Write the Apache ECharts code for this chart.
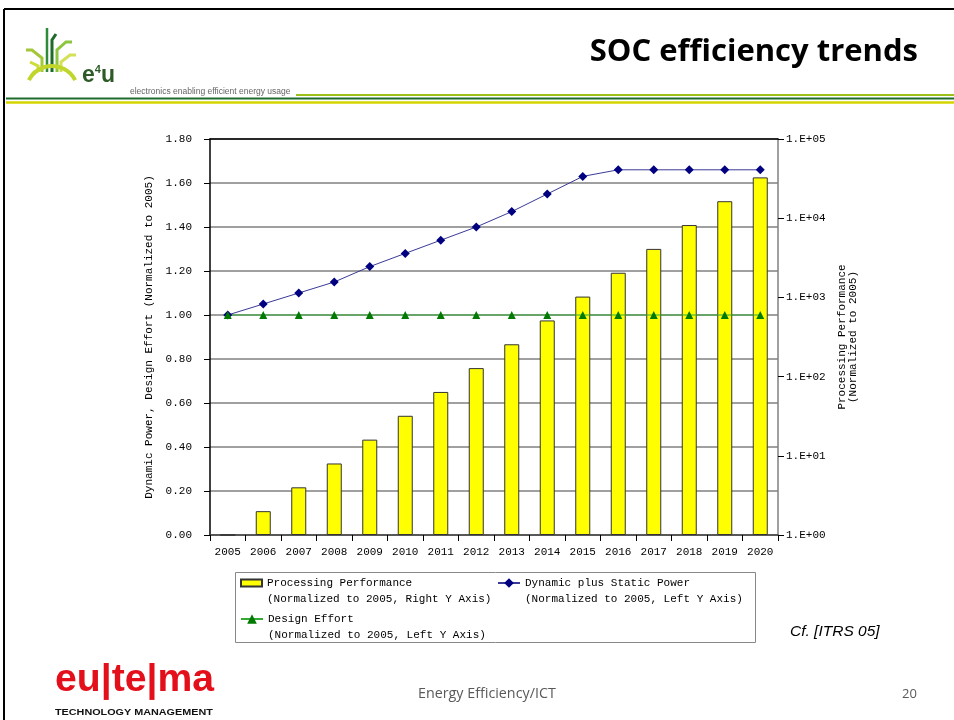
<!DOCTYPE html>
<html>
<head>
<meta charset="utf-8">
<script src="https://cdn.jsdelivr.net/npm/echarts@6/dist/echarts.min.js"></script>
<style>
html, body { margin: 0; padding: 0; background: #fff; }
#main { width: 954px; height: 720px; }
</style>
</head>
<body>
<div id="main"></div>
<script>
// data
var years = ['2005', '2006', '2007', '2008', '2009', '2010', '2011', '2012',
             '2013', '2014', '2015', '2016', '2017', '2018', '2019', '2020'];
var processingPerf = [1, 2, 4, 8, 16, 32, 64, 128, 256, 512, 1024, 2048, 4096, 8192, 16384, 32768];
var dynStaticPower = [1.00, 1.05, 1.10, 1.15, 1.22, 1.28, 1.34, 1.40, 1.47, 1.55, 1.63, 1.66, 1.66, 1.66, 1.66, 1.66];
var designEffort = [1.00, 1.00, 1.00, 1.00, 1.00, 1.00, 1.00, 1.00, 1.00, 1.00, 1.00, 1.00, 1.00, 1.00, 1.00, 1.00];

var monoFont = 'Liberation Mono';

var myChart = echarts.init(document.getElementById('main'));

var legendText = {
    fontFamily: monoFont,
    fontSize: 11,
    color: '#000',
    lineHeight: 16
};
// blank first line so the icon sits next to the series name, not the middle of the block
function legendLabel(sub) {
    return function (name) { return '\n' + name + '\n' + sub; };
}

var option = {
    backgroundColor: '#fff',
    animation: false,
    grid: {
        left: 210,
        right: 176,
        top: 139,
        bottom: 185
    },
    legend: [
        {
            left: 240, top: 559, padding: 0,
            itemWidth: 21, itemHeight: 7,
            icon: 'rect',
            data: ['Processing Performance'],
            formatter: legendLabel('(Normalized to 2005, Right Y Axis)'),
            textStyle: legendText
        },
        {
            left: 497, top: 559, padding: 0,
            itemWidth: 22, itemHeight: 12,
            data: ['Dynamic plus Static Power'],
            formatter: legendLabel('(Normalized to 2005, Left Y Axis)'),
            textStyle: legendText
        },
        {
            left: 240, top: 595, padding: 0,
            itemWidth: 22, itemHeight: 12,
            data: ['Design Effort'],
            formatter: legendLabel('(Normalized to 2005, Left Y Axis)'),
            textStyle: legendText
        }
    ],
    xAxis: [
        {
            type: 'category',
            data: years,
            axisLine: { lineStyle: { color: '#404040', width: 1.5 } },
            axisTick: { show: true, length: 6, lineStyle: { color: '#000' } },
            axisLabel: { fontFamily: monoFont, fontSize: 11, color: '#000', margin: 12 }
        },
        {
            // top border of the plot
            type: 'category',
            position: 'top',
            data: years,
            axisLine: { lineStyle: { color: '#000', width: 1.5 } },
            axisTick: { show: false },
            axisLabel: { show: false }
        }
    ],
    yAxis: [
        {
            type: 'value',
            min: 0,
            max: 1.8,
            interval: 0.2,
            name: 'Dynamic Power, Design Effort (Normalized to 2005)',
            nameLocation: 'middle',
            nameRotate: 90,
            nameGap: 54,
            nameTextStyle: { fontFamily: monoFont, fontSize: 11, color: '#000' },
            axisLine: { show: true, lineStyle: { color: '#000', width: 1.5 } },
            axisTick: { show: true, length: 6, lineStyle: { color: '#000' } },
            axisLabel: {
                fontFamily: monoFont, fontSize: 11, color: '#000', margin: 18,
                formatter: function (v) { return v.toFixed(2); }
            },
            splitLine: { lineStyle: { color: '#808080', width: 1.5 } }
        },
        {
            type: 'log',
            logBase: 10,
            min: 1,
            max: 100000,
            name: 'Processing Performance\n(Normalized to 2005)',
            nameLocation: 'middle',
            nameRotate: 90,
            nameGap: 58,
            nameTextStyle: { fontFamily: monoFont, fontSize: 11, color: '#000', lineHeight: 11 },
            axisLine: { show: true, lineStyle: { color: '#808080', width: 1.5 } },
            axisTick: { show: true, length: 6, lineStyle: { color: '#000' } },
            axisLabel: {
                fontFamily: monoFont, fontSize: 11, color: '#000', margin: 8,
                formatter: function (v) {
                    var e = Math.round(Math.log10(v));
                    return '1.E+' + (e < 10 ? '0' : '') + e;
                }
            },
            splitLine: { show: false }
        }
    ],
    series: [
        {
            name: 'Processing Performance',
            type: 'bar',
            yAxisIndex: 1,
            data: processingPerf,
            barWidth: 15,
            itemStyle: { color: '#ffff00', borderColor: '#333', borderWidth: 1 }
        },
        {
            name: 'Dynamic plus Static Power',
            type: 'line',
            yAxisIndex: 0,
            data: dynStaticPower,
            symbol: 'diamond',
            symbolSize: 9,
            itemStyle: { color: '#000080' },
            lineStyle: { color: '#3a3a98', width: 1 }
        },
        {
            name: 'Design Effort',
            type: 'line',
            yAxisIndex: 0,
            data: designEffort,
            symbol: 'triangle',
            symbolSize: 8,
            itemStyle: { color: '#007a00' },
            lineStyle: { color: '#33a833', width: 1 }
        }
    ],
    graphic: [
        // slide frame
        { type: 'line', shape: { x1: 4, y1: 9, x2: 954, y2: 9 }, style: { stroke: '#000', lineWidth: 2 } },
        { type: 'line', shape: { x1: 4, y1: 9, x2: 4, y2: 720 }, style: { stroke: '#000', lineWidth: 2 } },
        // header rules
        { type: 'line', shape: { x1: 296, y1: 95, x2: 954, y2: 95 }, style: { stroke: '#9cc21a', lineWidth: 2 } },
        { type: 'line', shape: { x1: 6, y1: 98.5, x2: 954, y2: 98.5 }, style: { stroke: '#1e6b2e', lineWidth: 2 } },
        { type: 'line', shape: { x1: 6, y1: 102.5, x2: 954, y2: 102.5 }, style: { stroke: '#d4d400', lineWidth: 2.5 } },
        // e4u logo (rough sketch)
        { type: 'polyline', shape: { points: [[52, 72], [52, 40], [56, 34]] }, style: { stroke: '#1f6b2a', lineWidth: 3, fill: null } },
        { type: 'polyline', shape: { points: [[47, 72], [47, 28]] }, style: { stroke: '#2e8b3a', lineWidth: 2.5, fill: null } },
        { type: 'polyline', shape: { points: [[57, 72], [57, 50], [66, 42], [72, 42]] }, style: { stroke: '#8cc63f', lineWidth: 3, fill: null } },
        { type: 'polyline', shape: { points: [[42, 72], [42, 58], [32, 50], [26, 50]] }, style: { stroke: '#a4c639', lineWidth: 3, fill: null } },
        { type: 'polyline', shape: { points: [[61, 72], [61, 62], [70, 55], [76, 55]] }, style: { stroke: '#d4e157', lineWidth: 3, fill: null } },
        { type: 'polyline', shape: { points: [[38, 72], [38, 66], [30, 62]] }, style: { stroke: '#cddc39', lineWidth: 3, fill: null } },
        { type: 'arc', shape: { cx: 52, cy: 92, r: 26, startAngle: Math.PI * 1.15, endAngle: Math.PI * 1.85 }, style: { stroke: '#c0d62a', lineWidth: 4, fill: null } },
        {
            type: 'text', left: 82, top: 64,
            style: {
                text: '{e|e}{s|4}{e|u}',
                rich: {
                    e: { fontFamily: 'Liberation Sans', fontWeight: 'bold', fontSize: 23, fill: '#2d5a27' },
                    s: { fontFamily: 'Liberation Sans', fontWeight: 'bold', fontSize: 11, fill: '#2d5a27', verticalAlign: 'top' }
                }
            }
        },
        { type: 'text', left: 130, top: 87, style: { text: 'electronics enabling efficient energy usage', font: '8.5px "Liberation Sans"', fill: '#666' } },
        // slide title
        { type: 'text', right: 36, top: 37, style: { text: 'SOC efficiency trends', font: 'bold 31px "Open Sans"', fill: '#000' } },
        // legend frame
        { type: 'rect', shape: { x: 235.5, y: 572.5, width: 520, height: 70 }, style: { stroke: '#888', lineWidth: 1, fill: null }, z: -1 },
        // citation
        { type: 'text', left: 790, top: 624, style: { text: 'Cf. [ITRS 05]', font: 'italic 15.5px "Liberation Sans"', fill: '#000' } },
        // footer
        {
            type: 'text', left: 55, top: 662, scaleX: 1.03,
            style: { text: 'eu|te|ma', font: 'bold 38px "Liberation Sans"', fill: '#e3101c' }
        },
        {
            type: 'text', left: 55, top: 708, scaleX: 1.2,
            style: { text: 'TECHNOLOGY MANAGEMENT', font: 'bold 9px "Liberation Sans"', fill: '#111' }
        },
        { type: 'text', left: 418, top: 687, style: { text: 'Energy Efficiency/ICT', font: '14.3px "Open Sans"', fill: '#595959' } },
        { type: 'text', left: 902, top: 688, style: { text: '20', font: '13px "Open Sans"', fill: '#595959' } }
    ]
};

myChart.setOption(option);
</script>
</body>
</html>
